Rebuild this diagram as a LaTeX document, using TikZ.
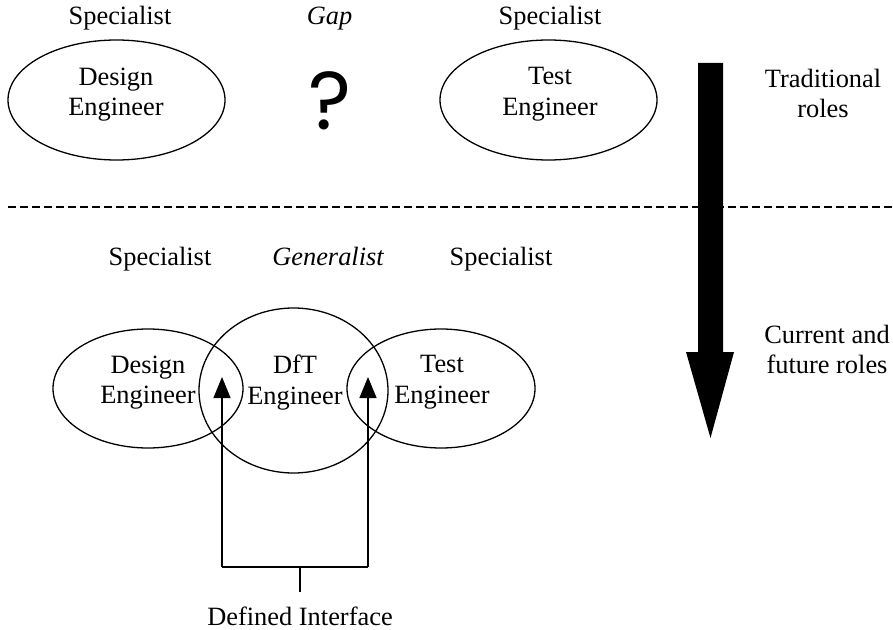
\documentclass[tikz,border=0pt]{standalone}
\usepackage{fontspec}
\setmainfont{Liberation Serif}
\newfontfamily\qfont{Poppins}
\usetikzlibrary{shapes.geometric,arrows.meta}
\begin{document}
\begin{tikzpicture}[x=0.5pt,y=-0.5pt,
  every node/.style={inner sep=0pt,outer sep=0pt},
  txt/.style={font=\fontsize{13.2}{15.2}\selectfont,align=center},
  role/.style={draw,ellipse,line width=0.65pt},
  link/.style={line width=0.65pt},
  tip/.style={link,-{Triangle[width=8.5pt,length=10.5pt]}},
  sep/.style={line width=0.6pt,dash pattern=on 4pt off 2pt}]
\useasboundingbox (0,0) rectangle (893,630);

% --- traditional roles ---
\node[txt,anchor=base] (sp1) at (120,25) {Specialist};
\node[txt,anchor=base] (gap) at (329.5,25) {\itshape Gap};
\node[txt,anchor=base] (sp2) at (550,25) {Specialist};

\node[role,minimum width=108.5pt,minimum height=60pt] (de1) at (116.5,100) {};
\node[role,minimum width=108.5pt,minimum height=60pt] (te1) at (548.5,100) {};
\node[txt] (de1t) at (116,94.4) {Design\\Engineer};
\node[txt] (te1t) at (550,94.4) {Test\\Engineer};
\node[anchor=base,font=\qfont\fontsize{41}{44}\selectfont] (q) at (330,130) {?};

% --- separator ---
\coordinate (sepL) at (8,207);
\coordinate (sepR) at (893,207);
\draw[sep] (sepL) -- (sepR);

% --- time arrow ---
\fill (698,63) -- (723,63) -- (723,352) -- (734,352) -- (710.5,438)
      -- (686,352) -- (698,352) -- cycle;
\node[txt] (trad) at (823,93.4) {Traditional\\roles};
\node[txt] (cur) at (827,349.4) {Current and\\future roles};

% --- current and future roles ---
\node[txt,anchor=base] (sp3) at (160,266) {Specialist};
\node[txt,anchor=base] (gen) at (328,266) {\itshape Generalist};
\node[txt,anchor=base] (sp4) at (501,266) {Specialist};

\node[role,minimum width=95pt,minimum height=59.5pt] (de2) at (148,388.5) {};
\node[role,minimum width=94.5pt,minimum height=82.5pt] (dft) at (293.5,390.5) {};
\node[role,minimum width=94pt,minimum height=59.5pt] (te2) at (441,388.5) {};
\node[txt] (de2t) at (148,382.4) {Design\\Engineer};
\node[txt] (dftt) at (295,382.4) {DfT\\Engineer};
\node[txt] (te2t) at (442,382.4) {Test\\Engineer};

% --- defined interface ---
\coordinate (lb) at (222,567);
\coordinate (lt) at (222,377);
\coordinate (rb) at (368,567);
\coordinate (rt) at (368,377);
\coordinate (mid) at (300,567);
\coordinate (stub) at (300,592);
\node[txt,anchor=base] (di) at (300,625) {Defined Interface};
\draw[tip] (lb) -- (lt);
\draw[tip] (rb) -- (rt);
\draw[link] (lb) -- (rb);
\draw[link] (mid) -- (stub);
\end{tikzpicture}
\end{document}
